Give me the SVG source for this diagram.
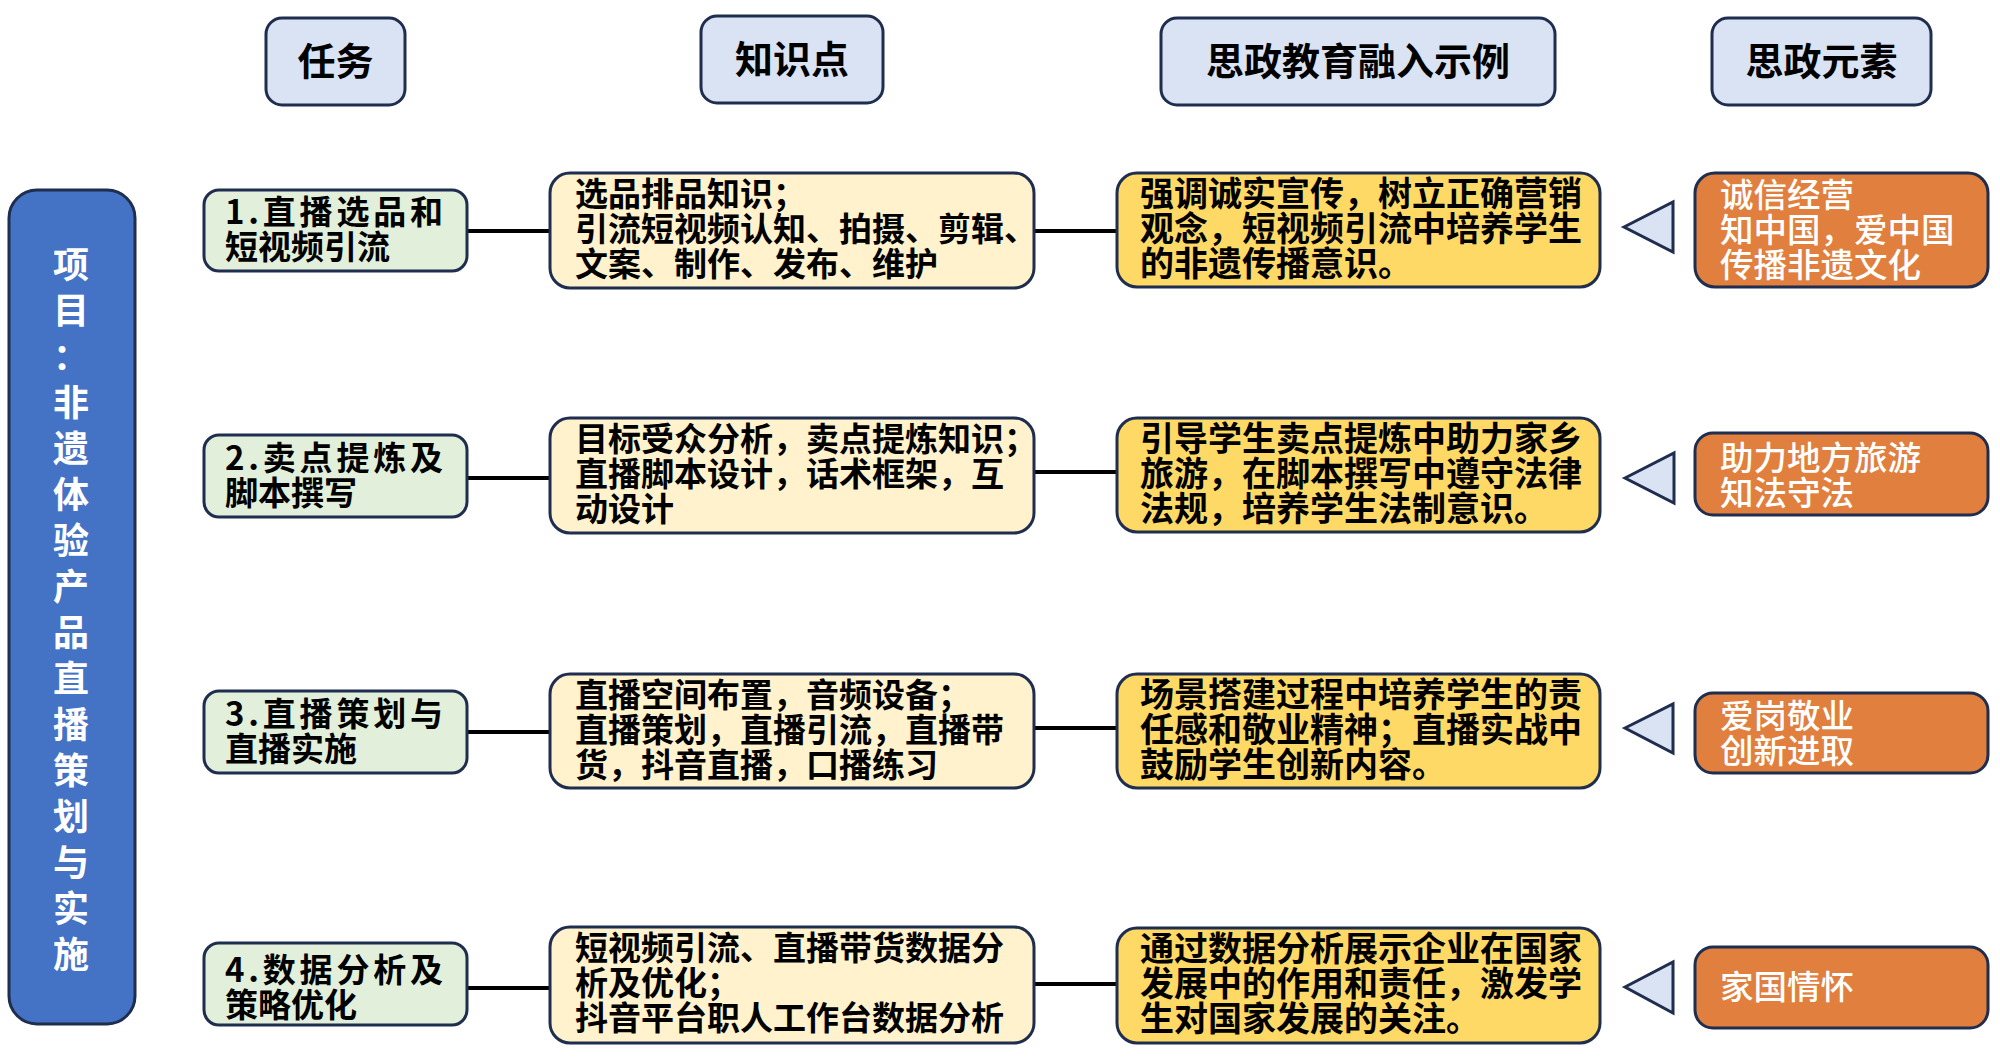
<svg xmlns="http://www.w3.org/2000/svg" width="2000" height="1063" viewBox="0 0 2000 1063">
<style>
text{font-family:"Noto Sans CJK SC","Noto Sans",sans-serif;font-weight:500}
.hd{fill:#DAE3F3;stroke:#1F2D4E;stroke-width:3}
.tk{fill:#E2EFDA;stroke:#1F2D4E;stroke-width:3}
.kn{fill:#FFF2CC;stroke:#1F2D4E;stroke-width:3}
.ye{fill:#FFD966;stroke:#1F2D4E;stroke-width:3}
.or{fill:#E07F3E;stroke:#1F2D4E;stroke-width:3}
.pj{fill:#4472C4;stroke:#1F2D4E;stroke-width:3}
.tri{fill:#DAE3F3;stroke:#1F2D4E;stroke-width:3;stroke-linejoin:miter}
.ht{font-size:38px;fill:#000;text-anchor:middle;font-weight:700}
.t33{font-size:33px;fill:#000;font-weight:700}
.t34{font-size:34px;fill:#000;font-weight:700}
.wt{font-size:33.5px;fill:#fff}
.pt{font-size:36px;fill:#fff;text-anchor:middle;font-weight:700}
.cn{stroke:#000;stroke-width:4;fill:none}
</style>

<g id="connectors">
<line class="cn" x1="467" y1="231" x2="550" y2="231"/>
<line class="cn" x1="1034" y1="231" x2="1117" y2="231"/>
<line class="cn" x1="467" y1="478" x2="550" y2="478"/>
<line class="cn" x1="1034" y1="472" x2="1117" y2="472"/>
<line class="cn" x1="467" y1="732" x2="550" y2="732"/>
<line class="cn" x1="1034" y1="728" x2="1117" y2="728"/>
<line class="cn" x1="467" y1="988" x2="550" y2="988"/>
<line class="cn" x1="1034" y1="984" x2="1117" y2="984"/>
<polygon class="tri" points="1624,227 1673,202 1673,252"/>
<polygon class="tri" points="1625,478 1674,453 1674,503"/>
<polygon class="tri" points="1625,728 1673,704 1673,753"/>
<polygon class="tri" points="1625,987 1673,962 1673,1013"/>
</g>

<g id="header-task"><rect class="hd" x="266" y="18" width="139" height="87" rx="16"/><text class="ht" x="335.5" y="75">任务</text></g>
<g id="header-knowledge"><rect class="hd" x="701" y="16" width="182" height="87" rx="16"/><text class="ht" x="792" y="73">知识点</text></g>
<g id="header-example"><rect class="hd" x="1161" y="18" width="394" height="87" rx="16"/><text class="ht" x="1358" y="75">思政教育融入示例</text></g>
<g id="header-element"><rect class="hd" x="1712" y="18" width="219" height="87" rx="16"/><text class="ht" x="1821.5" y="75">思政元素</text></g>

<g id="project">
<rect class="pj" x="9" y="190" width="126" height="834" rx="28"/>
<text class="pt" x="71" y="278">项</text>
<text class="pt" x="71" y="324">目</text>
<text class="pt" x="71" y="370">：</text>
<text class="pt" x="71" y="416">非</text>
<text class="pt" x="71" y="462">遗</text>
<text class="pt" x="71" y="508">体</text>
<text class="pt" x="71" y="554">验</text>
<text class="pt" x="71" y="600">产</text>
<text class="pt" x="71" y="646">品</text>
<text class="pt" x="71" y="692">直</text>
<text class="pt" x="71" y="738">播</text>
<text class="pt" x="71" y="784">策</text>
<text class="pt" x="71" y="830">划</text>
<text class="pt" x="71" y="876">与</text>
<text class="pt" x="71" y="922">实</text>
<text class="pt" x="71" y="968">施</text>
</g>

<g id="task1"><rect class="tk" x="204" y="190" width="263" height="81" rx="15"/>
<text class="t33" x="225" y="224" textLength="218" lengthAdjust="spacing">1.直播选品和</text>
<text class="t33" x="225" y="259">短视频引流</text></g>
<g id="task2"><rect class="tk" x="204" y="435" width="263" height="82" rx="15"/>
<text class="t33" x="225" y="470" textLength="218" lengthAdjust="spacing">2.卖点提炼及</text>
<text class="t33" x="225" y="505">脚本撰写</text></g>
<g id="task3"><rect class="tk" x="204" y="691" width="263" height="82" rx="15"/>
<text class="t33" x="225" y="726" textLength="218" lengthAdjust="spacing">3.直播策划与</text>
<text class="t33" x="225" y="761">直播实施</text></g>
<g id="task4"><rect class="tk" x="204" y="943" width="263" height="82" rx="15"/>
<text class="t33" x="225" y="982" textLength="218" lengthAdjust="spacing">4.数据分析及</text>
<text class="t33" x="225" y="1017">策略优化</text></g>

<g id="knowledge1"><rect class="kn" x="550" y="173" width="484" height="115" rx="20"/>
<text class="t33" x="575" y="206">选品排品知识；</text>
<text class="t33" x="575" y="241">引流短视频认知、拍摄、剪辑、</text>
<text class="t33" x="575" y="276">文案、制作、发布、维护</text></g>
<g id="knowledge2"><rect class="kn" x="550" y="418" width="484" height="115" rx="20"/>
<text class="t33" x="575" y="451">目标受众分析，卖点提炼知识；</text>
<text class="t33" x="575" y="486">直播脚本设计，话术框架，互</text>
<text class="t33" x="575" y="521">动设计</text></g>
<g id="knowledge3"><rect class="kn" x="550" y="674" width="484" height="114" rx="20"/>
<text class="t33" x="575" y="707">直播空间布置，音频设备；</text>
<text class="t33" x="575" y="742">直播策划，直播引流，直播带</text>
<text class="t33" x="575" y="777">货，抖音直播，口播练习</text></g>
<g id="knowledge4"><rect class="kn" x="550" y="927" width="484" height="116" rx="20"/>
<text class="t33" x="575" y="960">短视频引流、直播带货数据分</text>
<text class="t33" x="575" y="995">析及优化；</text>
<text class="t33" x="575" y="1030">抖音平台职人工作台数据分析</text></g>

<g id="example1"><rect class="ye" x="1117" y="173" width="483" height="114" rx="20"/>
<text class="t34" x="1140" y="206">强调诚实宣传，树立正确营销</text>
<text class="t34" x="1140" y="241">观念，短视频引流中培养学生</text>
<text class="t34" x="1140" y="276">的非遗传播意识。</text></g>
<g id="example2"><rect class="ye" x="1117" y="418" width="483" height="114" rx="20"/>
<text class="t34" x="1140" y="451">引导学生卖点提炼中助力家乡</text>
<text class="t34" x="1140" y="486">旅游，在脚本撰写中遵守法律</text>
<text class="t34" x="1140" y="521">法规，培养学生法制意识。</text></g>
<g id="example3"><rect class="ye" x="1117" y="674" width="483" height="114" rx="20"/>
<text class="t34" x="1140" y="707">场景搭建过程中培养学生的责</text>
<text class="t34" x="1140" y="742">任感和敬业精神；直播实战中</text>
<text class="t34" x="1140" y="777">鼓励学生创新内容。</text></g>
<g id="example4"><rect class="ye" x="1117" y="928" width="483" height="115" rx="20"/>
<text class="t34" x="1140" y="961">通过数据分析展示企业在国家</text>
<text class="t34" x="1140" y="996">发展中的作用和责任，激发学</text>
<text class="t34" x="1140" y="1031">生对国家发展的关注。</text></g>

<g id="element1"><rect class="or" x="1695" y="173" width="293" height="114" rx="20"/>
<text class="wt" x="1720" y="207">诚信经营</text>
<text class="wt" x="1720" y="242">知中国，爱中国</text>
<text class="wt" x="1720" y="277">传播非遗文化</text></g>
<g id="element2"><rect class="or" x="1695" y="433" width="293" height="82" rx="18"/>
<text class="wt" x="1720" y="470">助力地方旅游</text>
<text class="wt" x="1720" y="505">知法守法</text></g>
<g id="element3"><rect class="or" x="1695" y="693" width="293" height="80" rx="18"/>
<text class="wt" x="1720" y="728">爱岗敬业</text>
<text class="wt" x="1720" y="763">创新进取</text></g>
<g id="element4"><rect class="or" x="1695" y="947" width="293" height="81" rx="18"/>
<text class="wt" x="1720" y="999">家国情怀</text></g>
</svg>
